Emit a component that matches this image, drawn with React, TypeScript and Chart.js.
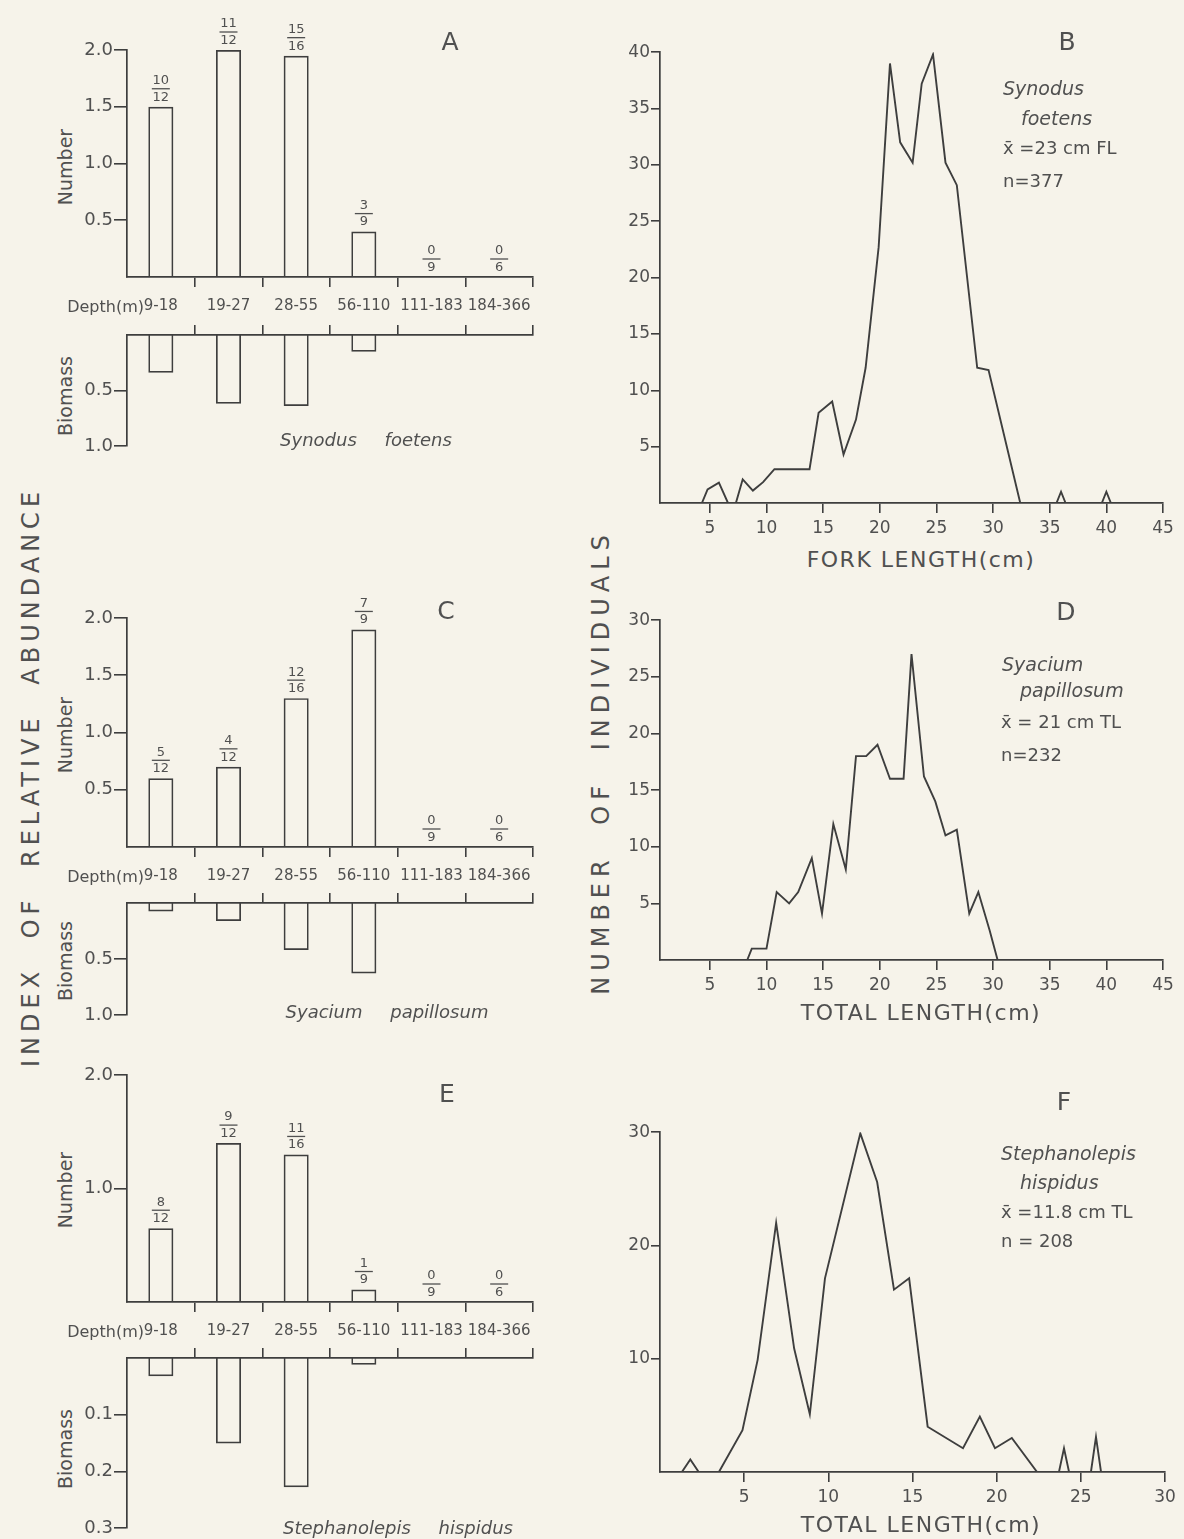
import React, { useEffect, useRef } from "react";
import { Chart, registerables } from "chart.js";

Chart.register(...registerables);

// ---------------- DATA ----------------
const depthLabels = ["9-18", "19-27", "28-55", "56-110", "111-183", "184-366"];

// Panel A – Synodus foetens
const numberA = [1.5, 2.0, 1.95, 0.4, 0, 0];
const biomassA = [0.34, 0.62, 0.64, 0.15, 0, 0];
const fracTopA = [10, 11, 15, 3, 0, 0];
const fracBottomA = [12, 12, 16, 9, 9, 6];

// Panel C – Syacium papillosum
const numberC = [0.6, 0.7, 1.3, 1.9, 0, 0];
const biomassC = [0.075, 0.16, 0.42, 0.63, 0, 0];
const fracTopC = [5, 4, 12, 7, 0, 0];
const fracBottomC = [12, 12, 16, 9, 9, 6];

// Panel E – Stephanolepis hispidus
const numberE = [0.65, 1.4, 1.3, 0.11, 0, 0];
const biomassE = [0.032, 0.151, 0.228, 0.012, 0, 0];
const fracTopE = [8, 9, 11, 1, 0, 0];
const fracBottomE = [12, 12, 16, 9, 9, 6];

// Tick values
const numberTicks = [0.5, 1.0, 1.5, 2.0];
const numberTicksE = [1.0, 2.0];
const biomassTicks = [0.5, 1.0];
const biomassTicksE = [0.1, 0.2, 0.3];

// Panel B – fork length frequency, Synodus foetens
const lengthB = [4.3, 4.8, 5.8, 6.6, 7.3, 7.9, 8.8, 9.7, 10.7, 13.8, 14.6, 15.8, 16.8, 17.9, 18.75, 19.9, 20.9, 21.8, 22.9, 23.7, 24.7, 25.8, 26.8, 28.6, 29.6, 32.4, 35.6, 36.0, 36.4, 39.6, 40.0, 40.4];
const countB = [0, 1.2, 1.8, 0, 0, 2.1, 1.1, 1.85, 3, 3, 8, 9, 4.3, 7.4, 12, 22.7, 39, 32, 30.2, 37.2, 39.8, 30.2, 28.2, 12, 11.8, 0, 0, 1, 0, 0, 1, 0];

// Panel D – total length frequency, Syacium papillosum
const lengthD = [8.3, 8.7, 10, 10.9, 12.0, 12.8, 14.0, 14.9, 15.9, 17.0, 17.9, 18.8, 19.8, 20.9, 22.1, 22.8, 23.9, 24.9, 25.8, 26.8, 27.9, 28.7, 29.7, 30.4];
const countD = [0, 1, 1, 6, 5, 6, 9, 4.1, 12, 8, 18, 18, 19, 16, 16, 27, 16.2, 14, 11, 11.5, 4.1, 6, 2.6, 0];

// Panel F – total length frequency, Stephanolepis hispidus
const lengthF = [1.3, 1.8, 2.3, 3.5, 4.9, 5.8, 6.9, 7.97, 8.9, 9.8, 11.9, 12.9, 13.9, 14.8, 15.9, 18.0, 19.0, 19.9, 20.9, 22.4, 23.7, 24.0, 24.3, 25.6, 25.9, 26.2];
const countF = [0, 1.1, 0, 0, 3.7, 9.9, 22, 10.9, 5.1, 17.1, 29.9, 25.6, 16.1, 17.1, 4.0, 2.1, 4.9, 2.1, 3.0, 0, 0, 2.1, 0, 0, 3.1, 0];

const lengthTicks45 = [5, 10, 15, 20, 25, 30, 35, 40, 45];
const lengthTicks30 = [5, 10, 15, 20, 25, 30];
const countTicks40 = [5, 10, 15, 20, 25, 30, 35, 40];
const countTicks30a = [5, 10, 15, 20, 25, 30];
const countTicks30b = [10, 20, 30];

// ---------------- STYLE ----------------
const FONT = '"DejaVu Sans", "Open Sans", sans-serif';
const LINE = "#3e3e3e";
const TXT = "#505050";
const BG = "#f6f3ea";

const fractionPlugin = {
  id: "fractions",
  afterDatasetsDraw(chart: any, _args: any, opts: any) {
    const nums = opts && opts.nums;
    const dens = opts && opts.dens;
    if (!nums) return;
    const meta = chart.getDatasetMeta(0);
    const ctx = chart.ctx;
    ctx.save();
    ctx.fillStyle = TXT;
    ctx.strokeStyle = TXT;
    ctx.font = `13px ${FONT}`;
    ctx.textAlign = "center";
    ctx.textBaseline = "middle";
    meta.data.forEach((el: any, i: number) => {
      const x = el.x;
      const y = el.y;
      ctx.fillText(String(nums[i]), x, y - 26);
      ctx.beginPath();
      ctx.moveTo(x - 9, y - 18);
      ctx.lineTo(x + 9, y - 18);
      ctx.lineWidth = 1.3;
      ctx.stroke();
      ctx.fillText(String(dens[i]), x, y - 9.5);
    });
    ctx.restore();
  },
};

const tickFont = (size: number) => ({ family: FONT, size });

function numberConfig(values: number[], nums: number[], dens: number[], yMax: number, yTicks: number[]) {
  return {
    type: "bar",
    data: {
      labels: depthLabels,
      datasets: [
        {
          data: values,
          backgroundColor: "rgba(0,0,0,0)",
          borderColor: LINE,
          borderWidth: 1.7,
          barPercentage: 0.37,
          categoryPercentage: 1,
        },
      ],
    },
    options: {
      animation: false,
      responsive: false,
      events: [],
      layout: { padding: { left: 0, right: 14, top: 40, bottom: 0 } },
      plugins: { legend: { display: false }, tooltip: { enabled: false }, fractions: { nums, dens } },
      scales: {
        x: {
          offset: true,
          grid: {
            offset: true,
            drawOnChartArea: false,
            drawTicks: true,
            tickLength: 10,
            lineWidth: 1.6,
            color: (c: any) => (c.index === 0 ? "rgba(0,0,0,0)" : LINE),
          },
          border: { display: true, color: LINE, width: 1.7 },
          ticks: { color: TXT, font: tickFont(15), padding: 10, maxRotation: 0, minRotation: 0, autoSkip: false },
          afterFit: (s: any) => {
            s.height = 40;
          },
        },
        y: {
          min: 0,
          max: yMax,
          grid: { drawOnChartArea: false, drawTicks: true, tickLength: 13, lineWidth: 1.6, color: LINE },
          border: { color: LINE, width: 1.7 },
          ticks: { color: TXT, font: tickFont(18), padding: 1, callback: (v: any) => Number(v).toFixed(1) },
          afterBuildTicks: (s: any) => {
            s.ticks = yTicks.map((v) => ({ value: v }));
          },
          afterFit: (s: any) => {
            s.width = 50;
          },
        },
      },
    },
    plugins: [fractionPlugin],
  };
}

function biomassConfig(values: number[], yMax: number, yTicks: number[]) {
  return {
    type: "bar",
    data: {
      labels: depthLabels,
      datasets: [
        {
          data: values,
          backgroundColor: "rgba(0,0,0,0)",
          borderColor: LINE,
          borderWidth: 1.7,
          barPercentage: 0.37,
          categoryPercentage: 1,
        },
      ],
    },
    options: {
      animation: false,
      responsive: false,
      events: [],
      layout: { padding: { left: 0, right: 14, top: 2, bottom: 12 } },
      plugins: { legend: { display: false }, tooltip: { enabled: false } },
      scales: {
        x: {
          position: "top",
          offset: true,
          grid: {
            offset: true,
            drawOnChartArea: false,
            drawTicks: true,
            tickLength: 10,
            lineWidth: 1.6,
            color: (c: any) => (c.index === 0 ? "rgba(0,0,0,0)" : LINE),
          },
          border: { display: true, color: LINE, width: 1.7 },
          ticks: { display: false },
          afterFit: (s: any) => {
            s.height = 10;
          },
        },
        y: {
          reverse: true,
          min: 0,
          max: yMax,
          grid: { drawOnChartArea: false, drawTicks: true, tickLength: 13, lineWidth: 1.6, color: LINE },
          border: { color: LINE, width: 1.7 },
          ticks: { color: TXT, font: tickFont(18), padding: 1, callback: (v: any) => Number(v).toFixed(1) },
          afterBuildTicks: (s: any) => {
            s.ticks = yTicks.map((v) => ({ value: v }));
          },
          afterFit: (s: any) => {
            s.width = 50;
          },
        },
      },
    },
  };
}

function lengthConfig(
  xs: number[],
  ys: number[],
  xMin: number,
  xMax: number,
  xTicks: number[],
  yMax: number,
  yTicks: number[]
) {
  return {
    type: "line",
    data: {
      datasets: [
        {
          data: xs.map((x, i) => ({ x, y: ys[i] })),
          borderColor: LINE,
          borderWidth: 1.9,
          pointRadius: 0,
          tension: 0,
          fill: false,
        },
      ],
    },
    options: {
      animation: false,
      responsive: false,
      events: [],
      layout: { padding: { left: 0, right: 16, top: 10, bottom: 0 } },
      plugins: { legend: { display: false }, tooltip: { enabled: false } },
      scales: {
        x: {
          type: "linear",
          min: xMin,
          max: xMax,
          grid: { drawOnChartArea: false, drawTicks: true, tickLength: 10, lineWidth: 1.6, color: LINE },
          border: { color: LINE, width: 1.7 },
          ticks: { color: TXT, font: tickFont(17), padding: 5 },
          afterBuildTicks: (s: any) => {
            s.ticks = xTicks.map((v) => ({ value: v }));
          },
          afterFit: (s: any) => {
            s.height = 36;
          },
        },
        y: {
          min: 0,
          max: yMax,
          grid: { drawOnChartArea: false, drawTicks: true, tickLength: 9, lineWidth: 1.6, color: LINE },
          border: { color: LINE, width: 1.7 },
          ticks: { color: TXT, font: tickFont(17), padding: 1 },
          afterBuildTicks: (s: any) => {
            s.ticks = yTicks.map((v) => ({ value: v }));
          },
          afterFit: (s: any) => {
            s.width = 40;
          },
        },
      },
    },
  };
}

// ---------------- COMPONENTS ----------------
function ChartCanvas({ left, top, width, height, config }: any) {
  const ref = useRef<HTMLCanvasElement | null>(null);
  useEffect(() => {
    if (!ref.current) return;
    const chart = new Chart(ref.current, config as any);
    return () => chart.destroy();
  }, []);
  return (
    <canvas
      ref={ref}
      width={width}
      height={height}
      style={{ position: "absolute", left, top, width, height }}
    />
  );
}

function Txt({ x, y, size = 14, italic = false, anchor = "middle", rotate = 0, spacing = 0, wordSpacing = 0, children }: any) {
  const tx = anchor === "start" ? "0" : anchor === "end" ? "-100%" : "-50%";
  return (
    <div
      style={{
        position: "absolute",
        left: x,
        top: y,
        transform: `translate(${tx}, -50%)` + (rotate ? ` rotate(${rotate}deg)` : ""),
        fontSize: size,
        fontStyle: italic ? "italic" : "normal",
        whiteSpace: "pre",
        lineHeight: 1,
        letterSpacing: spacing,
        wordSpacing,
        color: TXT,
      }}
    >
      {children}
    </div>
  );
}

function DepthPanel({ numTop, numBottom, bioTop, bioBottom, values, biomass, nums, dens, nTicks, bTicks, bMax }: any) {
  const axisLeft = 127;
  const axisRight = 533;
  const canvasLeft = axisLeft - 50;
  const width = axisRight - canvasLeft + 14;
  return (
    <>
      <ChartCanvas
        left={canvasLeft}
        top={numTop - 40}
        width={width}
        height={40 + (numBottom - numTop) + 40}
        config={numberConfig(values, nums, dens, 2.0, nTicks)}
      />
      <ChartCanvas
        left={canvasLeft}
        top={bioTop - 12}
        width={width}
        height={12 + (bioBottom - bioTop) + 12}
        config={biomassConfig(biomass, bMax, bTicks)}
      />
    </>
  );
}

function LengthPanel({ top, bottom, right, xs, ys, xMin, xMax, xTicks, yMax, yTicks }: any) {
  const axisLeft = 660;
  const canvasLeft = axisLeft - 40;
  return (
    <ChartCanvas
      left={canvasLeft}
      top={top - 10}
      width={right - canvasLeft + 16}
      height={10 + (bottom - top) + 36}
      config={lengthConfig(xs, ys, xMin, xMax, xTicks, yMax, yTicks)}
    />
  );
}

const XBAR = "x\u0304";

export default function App() {
  return (
    <div
      style={{
        position: "absolute",
        left: 0,
        top: 0,
        width: 1184,
        height: 1539,
        background: BG,
        overflow: "hidden",
        fontFamily: FONT,
        color: TXT,
      }}
    >
      {/* Left column */}
      <DepthPanel numTop={50} numBottom={277} bioTop={335} bioBottom={446} values={numberA} biomass={biomassA} nums={fracTopA} dens={fracBottomA} nTicks={numberTicks} bTicks={biomassTicks} bMax={1.0} />
      <DepthPanel numTop={618} numBottom={847} bioTop={903} bioBottom={1015} values={numberC} biomass={biomassC} nums={fracTopC} dens={fracBottomC} nTicks={numberTicks} bTicks={biomassTicks} bMax={1.0} />
      <DepthPanel numTop={1075} numBottom={1302} bioTop={1358} bioBottom={1528} values={numberE} biomass={biomassE} nums={fracTopE} dens={fracBottomE} nTicks={numberTicksE} bTicks={biomassTicksE} bMax={0.3} />

      {/* Right column */}
      <LengthPanel top={51} bottom={503} right={1163} xs={lengthB} ys={countB} xMin={0.6} xMax={45} xTicks={lengthTicks45} yMax={40} yTicks={countTicks40} />
      <LengthPanel top={619} bottom={960} right={1163} xs={lengthD} ys={countD} xMin={0.6} xMax={45} xTicks={lengthTicks45} yMax={30} yTicks={countTicks30a} />
      <LengthPanel top={1131} bottom={1472} right={1165} xs={lengthF} ys={countF} xMin={0} xMax={30} xTicks={lengthTicks30} yMax={30} yTicks={countTicks30b} />

      {/* Big rotated titles */}
      <Txt x={31} y={777} size={24} rotate={-90} spacing={5} wordSpacing={16}>INDEX OF RELATIVE ABUNDANCE</Txt>
      <Txt x={601} y={762} size={24} rotate={-90} spacing={6} wordSpacing={16}>NUMBER OF INDIVIDUALS</Txt>

      {/* Panel letters */}
      <Txt x={450} y={41} size={25}>A</Txt>
      <Txt x={446} y={610} size={25}>C</Txt>
      <Txt x={447} y={1093} size={25}>E</Txt>
      <Txt x={1067} y={41} size={25}>B</Txt>
      <Txt x={1066} y={611} size={25}>D</Txt>
      <Txt x={1064} y={1101} size={25}>F</Txt>

      {/* Left axis titles */}
      <Txt x={65} y={167} size={19} rotate={-90}>Number</Txt>
      <Txt x={65} y={396} size={19} rotate={-90}>Biomass</Txt>
      <Txt x={65} y={735} size={19} rotate={-90}>Number</Txt>
      <Txt x={65} y={961} size={19} rotate={-90}>Biomass</Txt>
      <Txt x={65} y={1190} size={19} rotate={-90}>Number</Txt>
      <Txt x={65} y={1449} size={19} rotate={-90}>Biomass</Txt>

      <Txt x={144} y={307} size={16} anchor="end">Depth(m)</Txt>
      <Txt x={144} y={877} size={16} anchor="end">Depth(m)</Txt>
      <Txt x={144} y={1332} size={16} anchor="end">Depth(m)</Txt>

      <Txt x={366} y={440} size={18} italic wordSpacing={22}>Synodus foetens</Txt>
      <Txt x={387} y={1012} size={18} italic wordSpacing={22}>Syacium papillosum</Txt>
      <Txt x={398} y={1528} size={18} italic wordSpacing={22}>Stephanolepis hispidus</Txt>

      {/* Right panel annotations */}
      <Txt x={1003} y={88} size={19} italic anchor="start">Synodus</Txt>
      <Txt x={1021} y={118} size={19} italic anchor="start">foetens</Txt>
      <Txt x={1003} y={148} size={18} anchor="start">{XBAR + " =23 cm FL"}</Txt>
      <Txt x={1003} y={181} size={18} anchor="start">n=377</Txt>

      <Txt x={1002} y={664} size={19} italic anchor="start">Syacium</Txt>
      <Txt x={1020} y={690} size={19} italic anchor="start">papillosum</Txt>
      <Txt x={1001} y={722} size={18} anchor="start">{XBAR + " = 21 cm TL"}</Txt>
      <Txt x={1001} y={755} size={18} anchor="start">n=232</Txt>

      <Txt x={1001} y={1153} size={19} italic anchor="start">Stephanolepis</Txt>
      <Txt x={1020} y={1182} size={19} italic anchor="start">hispidus</Txt>
      <Txt x={1001} y={1212} size={18} anchor="start">{XBAR + " =11.8 cm TL"}</Txt>
      <Txt x={1001} y={1241} size={18} anchor="start">n = 208</Txt>

      {/* Right axis titles */}
      <Txt x={921} y={560} size={22} spacing={1.5}>FORK LENGTH(cm)</Txt>
      <Txt x={921} y={1013} size={22} spacing={1.5}>TOTAL LENGTH(cm)</Txt>
      <Txt x={921} y={1525} size={22} spacing={1.5}>TOTAL LENGTH(cm)</Txt>
    </div>
  );
}
